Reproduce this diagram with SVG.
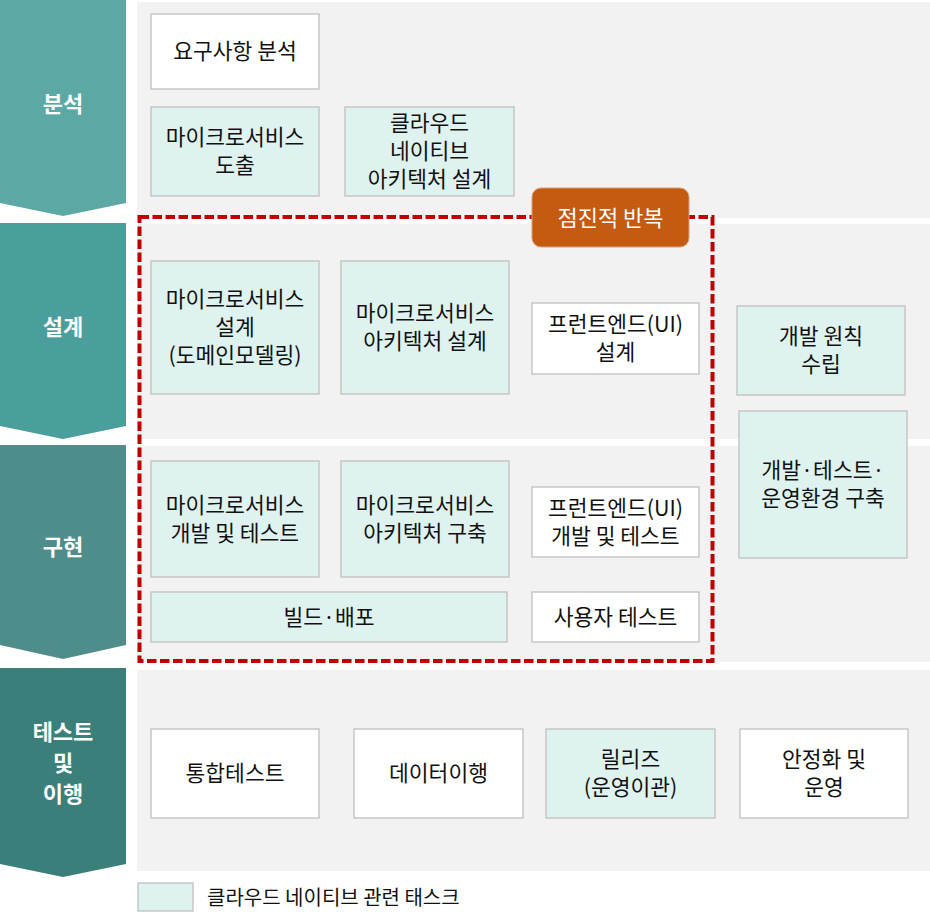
<svg xmlns="http://www.w3.org/2000/svg" width="930" height="913" viewBox="0 0 930 913">
<style>
.panel{fill:#F2F2F2}
.box{stroke:#BFBFBF;stroke-width:1.3}
.w{fill:#FFFFFF}
.t{fill:#DEF2EF}
text{font-family:"Noto Sans CJK KR","Noto Sans",sans-serif}
.lbl{font-size:21.5px;fill:#111;text-anchor:middle}
.ph{font-size:22px;font-weight:bold;fill:#FFFFFF;text-anchor:middle}
</style>
<rect width="930" height="913" fill="#FFFFFF"/>
<g id="panels">
<rect class="panel" x="137" y="2" width="793" height="216"/>
<rect class="panel" x="137" y="224" width="793" height="215"/>
<rect class="panel" x="137" y="446" width="793" height="216"/>
<rect class="panel" x="137" y="670" width="793" height="201"/>
</g>
<g id="phase-analysis">
<polygon points="0,0 126,0 126,203 63,216 0,203" fill="#5BA8A4"/>
<text class="ph" x="63" y="112">분석</text>
</g>
<g id="phase-design">
<polygon points="0,223 126,223 126,426 63,439 0,426" fill="#4A9E9B"/>
<text class="ph" x="63" y="335">설계</text>
</g>
<g id="phase-impl">
<polygon points="0,445 126,445 126,645 63,659 0,645" fill="#4F8D8A"/>
<text class="ph" x="63" y="555">구현</text>
</g>
<g id="phase-test">
<polygon points="0,668 126,668 126,864 63,877 0,864" fill="#3B7F7A"/>
<text class="ph" x="63" y="740">테스트</text>
<text class="ph" x="63" y="771">및</text>
<text class="ph" x="63" y="802">이행</text>
</g>
<g id="n-req">
<rect class="box w" x="151" y="14" width="168" height="75"/>
<text class="lbl" x="235" y="59">요구사항 분석</text>
</g>
<g id="n-ms-derive">
<rect class="box t" x="151" y="107" width="168" height="89"/>
<text class="lbl" x="235" y="145">마이크로서비스</text>
<text class="lbl" x="235" y="173">도출</text>
</g>
<g id="n-cloud-arch">
<rect class="box t" x="345" y="107" width="169" height="89"/>
<text class="lbl" x="429.5" y="131">클라우드</text>
<text class="lbl" x="429.5" y="159">네이티브</text>
<text class="lbl" x="429.5" y="187">아키텍처 설계</text>
</g>
<g id="n-ms-design">
<rect class="box t" x="151" y="261" width="168" height="133"/>
<text class="lbl" x="235" y="307">마이크로서비스</text>
<text class="lbl" x="235" y="335">설계</text>
<text class="lbl" x="235" y="363">(도메인모델링)</text>
</g>
<g id="n-ms-arch-design">
<rect class="box t" x="341" y="261" width="168" height="133"/>
<text class="lbl" x="425" y="321">마이크로서비스</text>
<text class="lbl" x="425" y="349">아키텍처 설계</text>
</g>
<g id="n-fe-design">
<rect class="box w" x="532" y="303" width="167" height="71"/>
<text class="lbl" x="615.5" y="332">프런트엔드(UI)</text>
<text class="lbl" x="615.5" y="360">설계</text>
</g>
<g id="n-dev-principle">
<rect class="box t" x="737" y="306" width="168" height="89"/>
<text class="lbl" x="821" y="344">개발 원칙</text>
<text class="lbl" x="821" y="372">수립</text>
</g>
<g id="n-env">
<rect class="box t" x="739" y="411" width="168" height="147"/>
<text class="lbl" x="823" y="478">개발·테스트·</text>
<text class="lbl" x="823" y="506">운영환경 구축</text>
</g>
<g id="n-ms-dev">
<rect class="box t" x="151" y="461" width="168" height="116"/>
<text class="lbl" x="235" y="512.5">마이크로서비스</text>
<text class="lbl" x="235" y="540.5">개발 및 테스트</text>
</g>
<g id="n-ms-arch-build">
<rect class="box t" x="341" y="461" width="168" height="116"/>
<text class="lbl" x="425" y="512.5">마이크로서비스</text>
<text class="lbl" x="425" y="540.5">아키텍처 구축</text>
</g>
<g id="n-fe-dev">
<rect class="box w" x="532" y="487" width="167" height="70"/>
<text class="lbl" x="615.5" y="515.5">프런트엔드(UI)</text>
<text class="lbl" x="615.5" y="543.5">개발 및 테스트</text>
</g>
<g id="n-build">
<rect class="box t" x="151" y="592" width="356" height="50"/>
<text class="lbl" x="329" y="624.5">빌드·배포</text>
</g>
<g id="n-uat">
<rect class="box w" x="532" y="592" width="167" height="50"/>
<text class="lbl" x="615.5" y="624.5">사용자 테스트</text>
</g>
<g id="n-integ">
<rect class="box w" x="151" y="729" width="168" height="89"/>
<text class="lbl" x="235" y="781">통합테스트</text>
</g>
<g id="n-migration">
<rect class="box w" x="354" y="729" width="169" height="89"/>
<text class="lbl" x="438.5" y="781">데이터이행</text>
</g>
<g id="n-release">
<rect class="box t" x="546" y="729" width="169" height="89"/>
<text class="lbl" x="630.5" y="767">릴리즈</text>
<text class="lbl" x="630.5" y="795">(운영이관)</text>
</g>
<g id="n-stabilize">
<rect class="box w" x="740" y="729" width="168" height="89"/>
<text class="lbl" x="824" y="767">안정화 및</text>
<text class="lbl" x="824" y="795">운영</text>
</g>
<g id="connectors">
<rect x="139.5" y="217" width="573" height="444" fill="none" stroke="#C00000" stroke-width="4" stroke-dasharray="9.5 3.5"/>
</g>
<g id="badge">
<rect x="532" y="188" width="157" height="59" rx="9" fill="#C55A11" stroke="#D9A07A" stroke-width="1"/>
<text x="610.5" y="225.5" font-size="22px" fill="#FFFFFF" text-anchor="middle">점진적 반복</text>
</g>
<g id="legend">
<rect class="box t" x="138" y="883" width="55" height="28"/>
<text x="207" y="904.5" font-size="20px" fill="#111">클라우드 네이티브 관련 태스크</text>
</g>
</svg>
